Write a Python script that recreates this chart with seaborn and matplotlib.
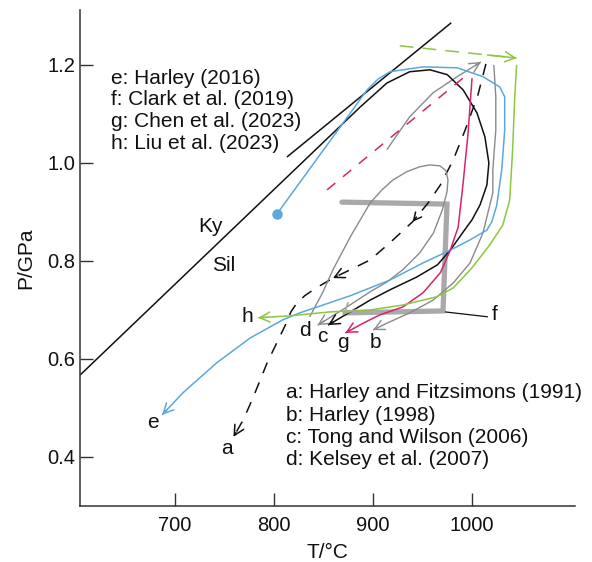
import matplotlib
matplotlib.use("Agg")
import matplotlib.pyplot as plt
import seaborn as sns

# ---- P-T paths (T in deg C, P in GPa) ----
kysil_T = [604, 887]
kysil_P = [0.567, 1.114]
kysil2_T = [813, 979]
kysil2_P = [1.012, 1.286]

a_T = [1014, 1006, 993, 981, 968, 955.5, 940, 917, 897, 877, 859.5, 841, 831, 823, 817, 814, 809, 793, 779, 769, 759]
a_P = [1.202, 1.139, 1.067, 1.006, 0.955, 0.918, 0.880, 0.837, 0.802, 0.782, 0.765, 0.743, 0.729, 0.714, 0.696, 0.680, 0.659, 0.592, 0.522, 0.476, 0.441]

b_pro_T = [914, 937, 960.6, 985, 1009]
b_pro_P = [1.027, 1.094, 1.143, 1.176, 1.206]
b_T = [1022, 1024, 1024, 1021, 1021, 1011, 998, 981, 960.6, 937, 914, 900]
b_P = [1.200, 1.135, 1.067, 0.986, 0.939, 0.857, 0.796, 0.755, 0.720, 0.694, 0.673, 0.659]

c_T = [887, 914, 937, 957.5, 975, 991, 1005, 1013, 1017, 1015, 1008, 1000, 991, 978, 965, 944, 917, 897, 877, 854.5]
c_P = [1.114, 1.163, 1.186, 1.190, 1.180, 1.149, 1.102, 1.053, 1.000, 0.955, 0.914, 0.884, 0.859, 0.822, 0.792, 0.767, 0.741, 0.720, 0.696, 0.669]

d_T = [836, 849, 859.5, 877, 897, 909, 920, 934, 947, 957.5, 967.6, 973.7, 975.7, 974.7, 970, 961, 947, 930, 914, 897, 872, 844]
d_P = [0.686, 0.735, 0.782, 0.849, 0.918, 0.945, 0.965, 0.982, 0.992, 0.996, 0.994, 0.984, 0.965, 0.941, 0.904, 0.857, 0.816, 0.782, 0.757, 0.737, 0.704, 0.669]

e_T = [803, 894, 905, 917, 950.5, 985, 1011, 1028, 1033, 1033, 1030, 1025, 1020, 1015, 998, 978, 950.5, 917, 877, 826, 809, 776, 742, 708, 687]
e_P = [0.896, 1.149, 1.171, 1.186, 1.196, 1.194, 1.176, 1.155, 1.135, 1.067, 0.986, 0.914, 0.880, 0.863, 0.843, 0.822, 0.796, 0.761, 0.729, 0.694, 0.680, 0.643, 0.592, 0.531, 0.486]

f_T = [868.6, 974.7, 970.7, 871.7]
f_P = [0.920, 0.916, 0.698, 0.694]
f_lead_T = [972.7, 1016]
f_lead_P = [0.696, 0.686]

g_pro_T = [853.5, 995]
g_pro_P = [0.945, 1.180]
g_T = [1000, 996, 991, 986, 978, 968, 950.5, 930, 907, 890, 872]
g_P = [1.173, 1.061, 0.959, 0.869, 0.822, 0.776, 0.735, 0.706, 0.690, 0.673, 0.653]

h_pro_T = [927, 1045]
h_pro_P = [1.239, 1.214]
h_T = [1045, 1043, 1041, 1038, 1031, 1018, 1000, 981, 964.6, 930, 897, 856.5, 816, 784]
h_P = [1.200, 1.129, 1.027, 0.924, 0.873, 0.833, 0.786, 0.745, 0.727, 0.710, 0.700, 0.696, 0.688, 0.684]

path_labels = ["a", "b", "c", "d", "e", "f", "g", "h"]
label_T = [752.5, 902, 849, 831, 678, 1023, 869.7, 773]
label_P = [0.418, 0.633, 0.645, 0.659, 0.471, 0.690, 0.633, 0.686]

refs_upper = ["e: Harley (2016)", "f: Clark et al. (2019)",
              "g: Chen et al. (2023)", "h: Liu et al. (2023)"]
refs_lower = ["a: Harley and Fitzsimons (1991)", "b: Harley (1998)",
              "c: Tong and Wilson (2006)", "d: Kelsey et al. (2007)"]

x_ticks = [700, 800, 900, 1000]
y_ticks = [0.4, 0.6, 0.8, 1.0, 1.2]

BLACK = "#111111"
GREY = "#8a8a8a"
THICK_GREY = "#a9a9a9"
BLUE = "#5aa8df"
GREEN = "#8dc63f"
MAGENTA = "#d6246f"

sns.set_style("ticks")
plt.rcParams["font.family"] = ["Liberation Sans", "DejaVu Sans"]

fig = plt.figure(figsize=(5.92, 5.62), dpi=100)
ax = fig.add_axes([80 / 592, 1 - 506 / 562, 495 / 592, 496 / 562])


def tip(T, P, i=-1, color=BLACK, lw=1.0, scale=13):
    """Open arrow head at point i, oriented along the incoming segment."""
    x1, y1 = T[i], P[i]
    x0, y0 = T[i - 1], P[i - 1]
    ax.annotate("", xy=(x1, y1), xytext=(x1 - 0.25 * (x1 - x0), y1 - 0.25 * (y1 - y0)),
                arrowprops=dict(arrowstyle="->,head_length=0.55,head_width=0.28",
                                color=color, lw=lw, shrinkA=0, shrinkB=0,
                                mutation_scale=scale))


def curve(T, P, color, lw=1.0, dashes=None, arrow=True):
    sns.lineplot(x=T, y=P, sort=False, estimator=None, color=color, lw=lw, ax=ax)
    line = ax.lines[-1]
    line.set_solid_capstyle("butt")
    line.set_solid_joinstyle("round")
    if dashes:
        line.set_dashes(dashes)
    if arrow:
        tip(T, P, color=color, lw=lw)


# Ky / Sil boundary
curve(kysil_T, kysil_P, BLACK, lw=1.1, arrow=False)
curve(kysil2_T, kysil2_P, BLACK, lw=1.1, arrow=False)

# f: thick grey box path
sns.lineplot(x=f_T, y=f_P, sort=False, estimator=None, color=THICK_GREY, lw=3.8, ax=ax)
ax.lines[-1].set_solid_joinstyle("miter")
tip(f_T + [869.7], f_P + [0.690], color=THICK_GREY, lw=1.3)
curve(f_lead_T, f_lead_P, BLACK, lw=0.9, arrow=False)

# a: dashed black with mid-path heads
curve(a_T, a_P, BLACK, lw=1.1, dashes=(7.5, 6.5))
tip(a_T, a_P, i=10, color=BLACK, lw=1.1)
tip(a_T, a_P, i=6, color=BLACK, lw=1.1, scale=10)

# b, d: grey
curve(b_pro_T, b_pro_P, GREY, lw=1.0)
curve(b_T, b_P, GREY, lw=1.0)
curve(d_T, d_P, GREY, lw=1.0)

# c: black
curve(c_T, c_P, BLACK, lw=1.1)

# e: blue
curve(e_T, e_P, BLUE, lw=1.1)
ax.plot(e_T[0], e_P[0], "o", color=BLUE, ms=6.5)

# g: magenta
curve(g_pro_T, g_pro_P, MAGENTA, lw=1.1, dashes=(7, 6.5), arrow=False)
curve(g_T, g_P, MAGENTA, lw=1.1)

# h: green
curve(h_pro_T, h_pro_P, GREEN, lw=1.1, dashes=(9, 6))
curve(h_T, h_P, GREEN, lw=1.1)

for s, x, y in zip(path_labels, label_T, label_P):
    ax.text(x, y, s, ha="center", va="center", fontsize=15, color=BLACK)
ax.text(736, 0.871, "Ky", ha="center", va="center", fontsize=15, color=BLACK)
ax.text(749.5, 0.790, "Sil", ha="center", va="center", fontsize=15, color=BLACK)

for k, s in enumerate(refs_upper):
    fig.text(111 / 592, 1 - (78 + 21.7 * k) / 562, s, ha="left", va="center",
             fontsize=15, color=BLACK)
for k, s in enumerate(refs_lower):
    fig.text(286 / 592, 1 - (393 + 22.3 * k) / 562, s, ha="left", va="center",
             fontsize=15, color=BLACK)

ax.set_xlim(604, 1104)
ax.set_ylim(0.3, 1.312)
ax.set_xticks(x_ticks)
ax.set_yticks(y_ticks)
ax.set_yticklabels([f"{v:.1f}" for v in y_ticks])
ax.tick_params(direction="in", length=9.5, width=1.0, color="#333333",
               labelsize=14.5, labelcolor=BLACK)
ax.tick_params(axis="x", pad=7)
ax.tick_params(axis="y", pad=3.5)
for side in ("top", "right"):
    ax.spines[side].set_visible(False)
for side in ("left", "bottom"):
    ax.spines[side].set_color("#333333")
    ax.spines[side].set_linewidth(1.1)

ax.set_xlabel("T/°C", fontsize=15, color=BLACK)
ax.set_ylabel("P/GPa", fontsize=15, color=BLACK)
ax.xaxis.set_label_coords(0.5, -0.0746)
ax.yaxis.set_label_coords(-0.109, 0.5)
ax.yaxis.label.set_va("center")
ax.xaxis.label.set_va("top")

fig.savefig("out.png", dpi=100)
